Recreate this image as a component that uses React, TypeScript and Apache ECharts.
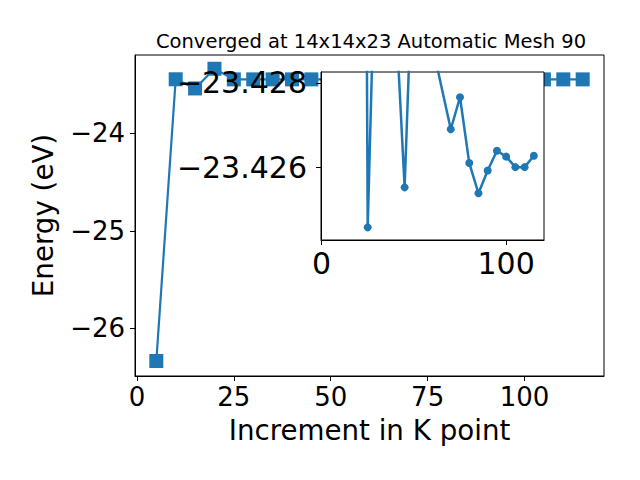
import React, { useEffect, useRef } from 'react';
import * as echarts from 'echarts';

const titleText = 'Converged at 14x14x23 Automatic Mesh 90';
const xName = 'Increment in K point';
const yName = 'Energy (eV)';

const kPoints = [5, 10, 15, 20, 25, 30, 35, 40, 45, 50, 55, 60, 70, 75, 80, 85, 90, 95, 100, 105, 110, 115];
const mainEnergy = [
  -26.335, -23.446, -23.54, -23.338, -23.447, -23.447, -23.447, -23.447, -23.447, -23.447, -23.447,
  -23.447, -23.447, -23.447, -23.447, -23.447, -23.447, -23.447, -23.447, -23.447, -23.447, -23.447,
];
const insetEnergy = [
  -23.445, -23.446, -23.54, -23.47, -23.42457, -23.4328, -23.44, -23.4298, -23.42552, -23.4317, -23.435,
  -23.4289, -23.4269, -23.42766, -23.4261, -23.42538, -23.42592, -23.42639, -23.42625, -23.426, -23.426,
  -23.42627,
];

const mainXTicks = [0, 25, 50, 75, 100];
const mainYTicks = [-26, -25, -24];
const insetXTicks = [0, 100];
const insetYTicks = [-23.428, -23.426];

const FONT = 'DejaVu Sans';
const BLUE = '#1f77b4';

const fmt = (d: number) => (v: number) => (v < 0 ? '\u2212' : '') + Math.abs(v).toFixed(d);

export default function App() {
  const ref = useRef<HTMLDivElement>(null);
  useEffect(() => {
    document.body.style.margin = '0';
    if (!ref.current) return;
    const chart = echarts.init(ref.current, null, { renderer: 'svg' });

    const axisBase = (z: number) => ({
      z,
      axisLine: { show: true, onZero: false, lineStyle: { color: '#000', width: 1 } },
      splitLine: { show: false },
    });
    const tick = (ticks: number[]) => ({
      show: true,
      length: 5,
      customValues: ticks,
      lineStyle: { color: '#000', width: 1 },
    });
    const label = (ticks: number[], d: number, margin: number, size: number) => ({
      color: '#000',
      fontFamily: FONT,
      fontSize: size,
      margin,
      customValues: ticks,
      formatter: fmt(d),
    });

    const option: any = {
      animation: false,
      title: {
        text: titleText,
        left: 366,
        textAlign: 'center',
        top: 26,
        textStyle: { fontFamily: FONT, fontSize: 19.5, fontWeight: 'normal', color: '#000' },
      },
      grid: [
        { left: 135, top: 55, right: 36, bottom: 104, show: true, borderColor: '#000', borderWidth: 1, backgroundColor: '#fff', z: 0 },
        { left: 321, top: 72, width: 223, height: 168, show: true, borderColor: '#000', borderWidth: 1, backgroundColor: '#fff', z: 5 },
      ],
      xAxis: [
        {
          ...axisBase(1),
          type: 'value',
          gridIndex: 0,
          min: -0.5,
          max: 120.5,
          axisTick: tick(mainXTicks),
          axisLabel: label(mainXTicks, 0, 8, 26),
          name: xName,
          nameLocation: 'middle',
          nameGap: 40,
          nameTextStyle: { fontFamily: FONT, fontSize: 27.7, color: '#000' },
        },
        {
          ...axisBase(6),
          type: 'value',
          gridIndex: 1,
          min: -0.3,
          max: 120.5,
          axisTick: tick(insetXTicks),
          axisLabel: label(insetXTicks, 0, 8, 30),
        },
      ],
      yAxis: [
        {
          ...axisBase(1),
          type: 'value',
          gridIndex: 0,
          min: -26.489,
          max: -23.197,
          axisTick: tick(mainYTicks),
          axisLabel: label(mainYTicks, 0, 10, 26),
          name: yName,
          nameLocation: 'middle',
          nameGap: 78,
          nameRotate: 90,
          nameTextStyle: { fontFamily: FONT, fontSize: 27.7, color: '#000' },
        },
        {
          ...axisBase(6),
          type: 'value',
          gridIndex: 1,
          inverse: true,
          min: -23.42826,
          max: -23.42427,
          axisTick: tick(insetYTicks),
          axisLabel: label(insetYTicks, 3, 14, 30),
        },
      ],
      series: [
        {
          type: 'line',
          xAxisIndex: 0,
          yAxisIndex: 0,
          data: kPoints.map((k, i) => [k, mainEnergy[i]]),
          symbol: 'rect',
          symbolSize: 14,
          showAllSymbol: true,
          color: BLUE,
          itemStyle: { color: BLUE },
          lineStyle: { color: BLUE, width: 2.2 },
          z: 2,
        },
        {
          type: 'line',
          xAxisIndex: 1,
          yAxisIndex: 1,
          data: kPoints.map((k, i) => [k, insetEnergy[i]]),
          symbol: 'circle',
          symbolSize: 8,
          showAllSymbol: true,
          clip: true,
          color: BLUE,
          itemStyle: { color: BLUE },
          lineStyle: { color: BLUE, width: 2.5 },
          z: 7,
        },
      ],
    };
    chart.setOption(option);
    return () => chart.dispose();
  }, []);
  return <div ref={ref} style={{ width: 640, height: 480 }} />;
}
